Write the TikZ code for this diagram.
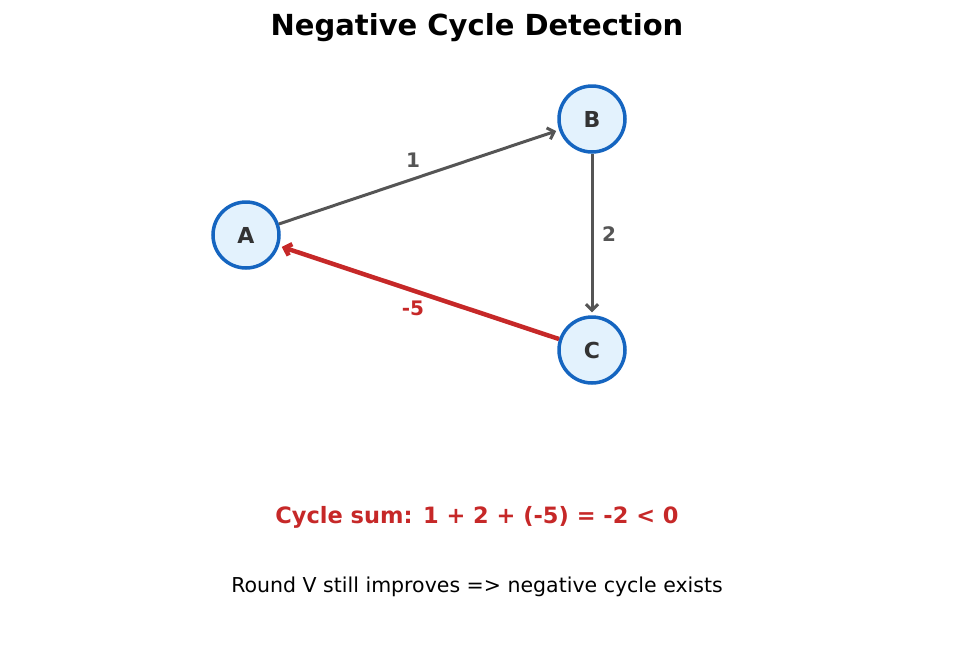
\documentclass[tikz,border=0pt]{standalone}
\usepackage{fontspec}
\setmainfont{DejaVu Sans}
\usetikzlibrary{arrows.meta}
\definecolor{nfill}{HTML}{E3F2FD}
\definecolor{nbord}{HTML}{1565C0}
\definecolor{ntext}{HTML}{333333}
\definecolor{edge}{HTML}{555555}
\definecolor{neg}{HTML}{C62828}
\begin{document}
\begin{tikzpicture}[x=1pt,y=-1pt,
  vert/.style={circle,draw=nbord,fill=nfill,line width=3.5pt,minimum size=66pt,inner sep=0pt,text=ntext,font=\fontsize{22}{26}\selectfont\bfseries},
  ed/.style={draw=edge,line width=3pt,-{Straight Barb[length=6pt,width=12pt]}},
  lbl/.style={text=edge,font=\fontsize{20}{24}\selectfont\bfseries}]
\useasboundingbox (0,0) rectangle (954,654);
\node[font=\fontsize{29}{34}\selectfont\bfseries] (title) at (477,28) {Negative Cycle Detection};
\node[vert] (A) at (246,235) {A};
\node[vert] (B) at (592,119) {B};
\node[vert] (C) at (592,350) {C};
\draw[ed,shorten >=3pt] (A) -- (B);
\draw[ed,shorten >=3pt] (B) -- (C);
\draw[ed,draw=neg,line width=4.5pt,shorten >=3pt] (C) -- (A);
\node[lbl] (l1) at (413,160) {1};
\node[lbl] (l2) at (609,234) {2};
\node[lbl,text=neg] (l3) at (413,308) {-5};
\node[text=neg,font=\fontsize{22.5}{27}\selectfont\bfseries] (sum) at (477,517) {Cycle sum: 1 + 2 + (-5) = -2 < 0};
\node[font=\fontsize{20.5}{24}\selectfont] (round) at (477,587) {Round V still improves => negative cycle exists};
\end{tikzpicture}
\end{document}
